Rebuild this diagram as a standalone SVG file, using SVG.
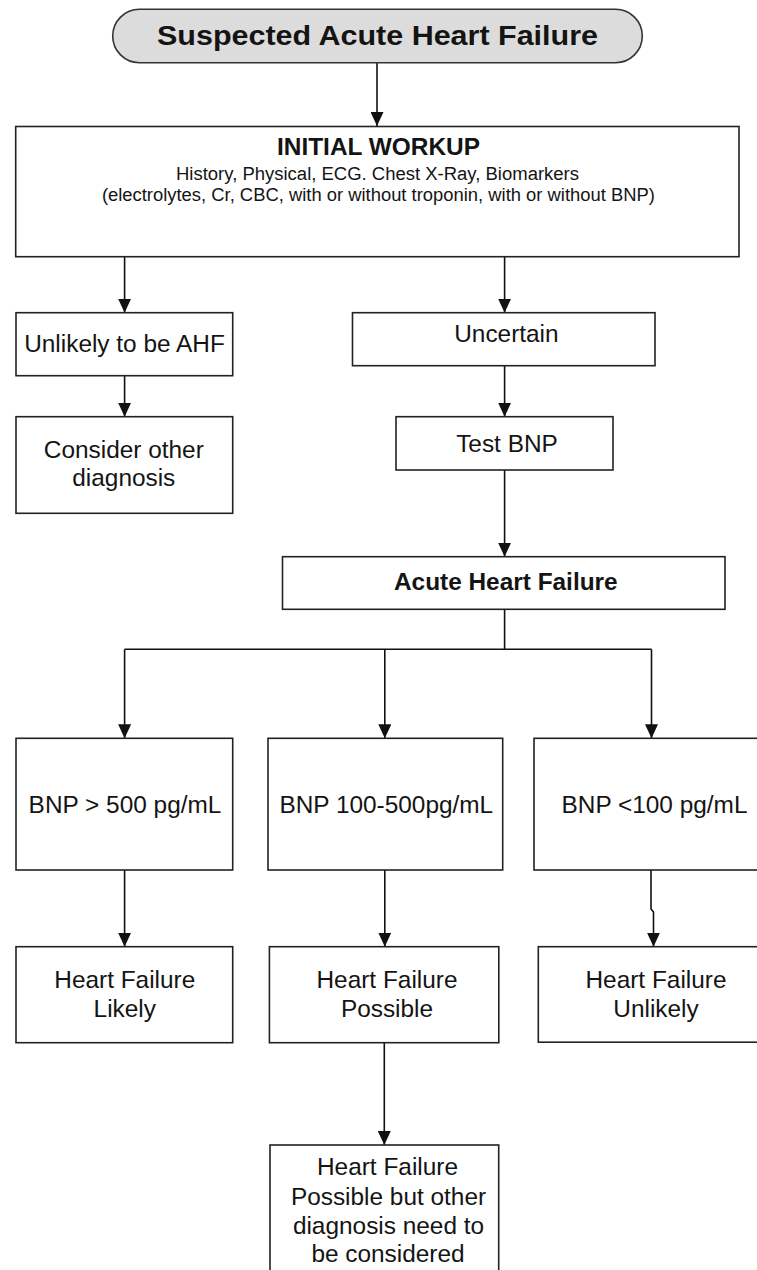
<svg xmlns="http://www.w3.org/2000/svg" width="757" height="1270" viewBox="0 0 757 1270">
  <style>
    .box { fill: #ffffff; stroke: #222222; stroke-width: 1.6; }
    .term { fill: #dcdcdc; stroke: #333333; stroke-width: 1.6; }
    .t { font-family: "Liberation Sans", Arial, sans-serif; font-size: 24.4px; fill: #141414; text-anchor: middle; }
    .b { font-weight: bold; }
    .s { font-size: 18px; }
    .conn { fill: none; stroke: #111111; stroke-width: 1.6; }
  </style>
  <defs>
    <marker id="arr" markerUnits="userSpaceOnUse" viewBox="0 0 14 13" refX="14" refY="6.5" markerWidth="14" markerHeight="13" orient="auto">
      <path d="M0,0 L14,6.5 L0,13 z" fill="#111111"/>
    </marker>
  </defs>
  <rect width="757" height="1270" fill="#ffffff"/>

  <g id="connectors">
    <path class="conn" d="M377,63 V126" marker-end="url(#arr)"/>
    <path class="conn" d="M124.6,256.7 V312.7" marker-end="url(#arr)"/>
    <path class="conn" d="M504.6,256.7 V312.7" marker-end="url(#arr)"/>
    <path class="conn" d="M124.6,375.7 V416.7" marker-end="url(#arr)"/>
    <path class="conn" d="M504.6,365.7 V416.7" marker-end="url(#arr)"/>
    <path class="conn" d="M504.6,470 V556.7" marker-end="url(#arr)"/>
    <path class="conn" d="M504.6,609.3 V649.3 M124.6,649.3 H651.5"/>
    <path class="conn" d="M124.6,649.3 V738.3" marker-end="url(#arr)"/>
    <path class="conn" d="M384.8,649.3 V738.3" marker-end="url(#arr)"/>
    <path class="conn" d="M651.5,649.3 V738.3" marker-end="url(#arr)"/>
    <path class="conn" d="M124.6,870 V946.7" marker-end="url(#arr)"/>
    <path class="conn" d="M384.8,870 V946.7" marker-end="url(#arr)"/>
    <path class="conn" d="M651,870 V909 L653.5,912 V946.7" marker-end="url(#arr)"/>
    <path class="conn" d="M384.3,1042.5 V1145" marker-end="url(#arr)"/>
  </g>

  <g id="start">
    <rect class="term" x="112.7" y="9.3" width="529.6" height="53.4" rx="26.7" ry="26.7"/>
    <text class="t b" x="377.5" y="45" style="font-size:27px" textLength="441" lengthAdjust="spacingAndGlyphs">Suspected Acute Heart Failure</text>
  </g>

  <g id="workup">
    <rect class="box" x="15.7" y="126.5" width="723.3" height="130.2"/>
    <text class="t b" x="378.5" y="155" textLength="203" lengthAdjust="spacingAndGlyphs">INITIAL WORKUP</text>
    <text class="t s" x="377.5" y="180" textLength="403" lengthAdjust="spacingAndGlyphs">History, Physical, ECG. Chest X-Ray, Biomarkers</text>
    <text class="t s" x="378.4" y="201" textLength="553" lengthAdjust="spacingAndGlyphs">(electrolytes, Cr, CBC, with or without troponin, with or without BNP)</text>
  </g>

  <g id="unlikely">
    <rect class="box" x="16" y="312.7" width="216.7" height="63"/>
    <text class="t" x="124.5" y="351.7">Unlikely to be AHF</text>
  </g>

  <g id="consider">
    <rect class="box" x="16" y="416.7" width="216.7" height="96.6"/>
    <text class="t" x="123.8" y="457.5">Consider other</text>
    <text class="t" x="123.8" y="486">diagnosis</text>
  </g>

  <g id="uncertain">
    <rect class="box" x="352.5" y="312.7" width="302.5" height="53"/>
    <text class="t" x="506.4" y="341.7">Uncertain</text>
  </g>

  <g id="testbnp">
    <rect class="box" x="396" y="416.7" width="217" height="53.3"/>
    <text class="t" x="507" y="451.7">Test BNP</text>
  </g>

  <g id="ahf">
    <rect class="box" x="282.5" y="556.7" width="442.5" height="52.6"/>
    <text class="t b" x="505.8" y="590">Acute Heart Failure</text>
  </g>

  <g id="bnp-high">
    <rect class="box" x="16" y="738.3" width="216.7" height="131.7"/>
    <text class="t" x="125" y="813.3">BNP &gt; 500 pg/mL</text>
  </g>

  <g id="bnp-mid">
    <rect class="box" x="268" y="738.3" width="234.7" height="131.7"/>
    <text class="t" x="386.3" y="813.3">BNP 100-500pg/mL</text>
  </g>

  <g id="bnp-low">
    <rect class="box" x="534" y="738.3" width="240" height="131.7"/>
    <text class="t" x="654.5" y="813.3">BNP &lt;100 pg/mL</text>
  </g>

  <g id="hf-likely">
    <rect class="box" x="16" y="946.7" width="216.7" height="96"/>
    <text class="t" x="124.8" y="988.3">Heart Failure</text>
    <text class="t" x="124.8" y="1016.7">Likely</text>
  </g>

  <g id="hf-possible">
    <rect class="box" x="269.4" y="946.7" width="229.4" height="96"/>
    <text class="t" x="387" y="988.3">Heart Failure</text>
    <text class="t" x="387" y="1016.7">Possible</text>
  </g>

  <g id="hf-unlikely">
    <rect class="box" x="538.3" y="946.7" width="240" height="95.5"/>
    <text class="t" x="656" y="988.3">Heart Failure</text>
    <text class="t" x="656" y="1016.7">Unlikely</text>
  </g>

  <g id="hf-possible-other">
    <rect class="box" x="270" y="1145" width="228.7" height="140"/>
    <text class="t" x="387.5" y="1174.5">Heart Failure</text>
    <text class="t" x="388.5" y="1204.5">Possible but other</text>
    <text class="t" x="388.5" y="1233.5">diagnosis need to</text>
    <text class="t" x="388" y="1262">be considered</text>
  </g>
</svg>
